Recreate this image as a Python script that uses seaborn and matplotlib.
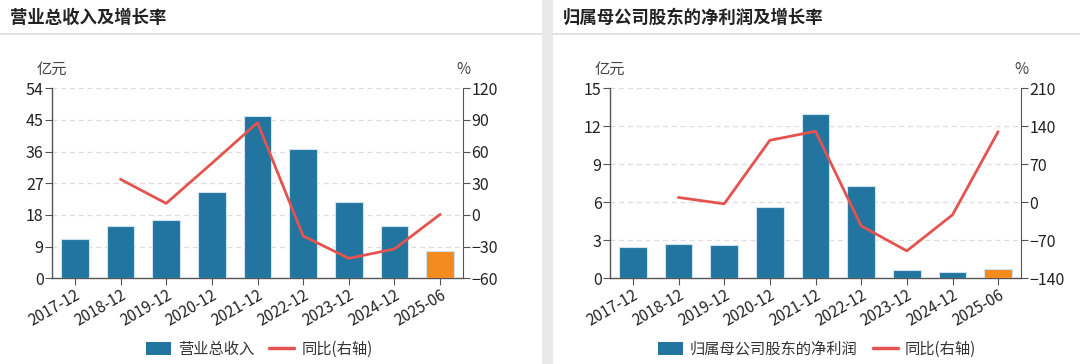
import matplotlib
matplotlib.use("Agg")
from matplotlib import pyplot as plt
from matplotlib.patches import Rectangle, Patch
from matplotlib.lines import Line2D
import seaborn as sns
import numpy as np

# data
periods = ["2017-12", "2018-12", "2019-12", "2020-12", "2021-12",
           "2022-12", "2023-12", "2024-12", "2025-06"]
revenue = [11.1, 14.9, 16.6, 24.5, 46.1, 36.7, 21.7, 14.8, 7.8]
revenue_yoy = [33.8, 11.0, 48.9, 87.5, -19.9, -41.1, -32.2, 0.6]
profit = [2.51, 2.72, 2.64, 5.62, 13.0, 7.28, 0.69, 0.53, 0.74]
profit_yoy = [8.9, -2.8, 114.2, 130.8, -43.4, -89.5, -23.1, 130.2]

BLUE = "#21759f"
ORANGE = "#f58a1f"
RED = "#e4534f"
AXIS = "#555555"

sns.set_style("white")
plt.rcParams["font.family"] = ["Noto Sans CJK SC", "DejaVu Sans"]

W, H = 1080, 364
fig = plt.figure(figsize=(W / 100, H / 100), dpi=100, facecolor="#e8e9eb")


def px(x0, y0, w, h):
    # pixel box (top-left origin) -> figure fraction
    return [x0 / W, 1 - (y0 + h) / H, w / W, h / H]


def card(x0, x1, title):
    fig.patches.append(Rectangle((x0 / W, 0), (x1 - x0) / W, 1, transform=fig.transFigure,
                                 facecolor="white", edgecolor="none", zorder=-10))
    fig.lines.append(Line2D([x0 / W, x1 / W], [1 - 34 / H, 1 - 34 / H], transform=fig.transFigure,
                            color="#dcdcdc", lw=1.2))
    fig.text((x0 + 10) / W, 1 - 18 / H, title, fontsize=12.5, fontweight="bold",
             va="center", ha="left", color="#222222")


def panel(x0, vals, yoy, lticks, rticks, bar_label):
    ax = fig.add_axes(px(x0, 88.3, 411, 190))
    colors = [BLUE] * (len(vals) - 1) + [ORANGE]
    sns.barplot(x=periods, y=vals, hue=periods, palette=colors, legend=False,
                width=0.6, ax=ax, edgecolor="#cfe3ef", linewidth=0.8, saturation=1, zorder=3)
    ax.set_xlim(-0.5, len(periods) - 0.5)
    ax.set_ylim(lticks[0], lticks[-1])
    ax.set_yticks(lticks)
    ax.grid(axis="y", color="#dddddd", linestyle=(0, (4, 3)), lw=0.9, zorder=0)
    ax.set_axisbelow(True)
    for s in ["top", "right"]:
        ax.spines[s].set_visible(False)
    for s in ["left", "bottom"]:
        ax.spines[s].set_color(AXIS)
        ax.spines[s].set_linewidth(1)
    ax.tick_params(axis="y", direction="out", length=5, color=AXIS, labelsize=11.5,
                   labelcolor="#222222", pad=1, left=True)
    ax.tick_params(axis="x", direction="out", length=5, color=AXIS, labelsize=11,
                   labelcolor="#222222", pad=1, bottom=True)
    plt.setp(ax.get_xticklabels(), rotation=30, ha="right", rotation_mode="anchor")
    ax.set_xlabel("")
    ax.set_ylabel("")

    ax2 = ax.twinx()
    sns.lineplot(x=np.arange(1, len(periods)), y=yoy, ax=ax2, color=RED, lw=2, zorder=4)
    ax2.set_ylim(rticks[0], rticks[-1])
    ax2.set_yticks(rticks)
    for s in ["top", "left", "bottom"]:
        ax2.spines[s].set_visible(False)
    ax2.spines["right"].set_color(AXIS)
    ax2.tick_params(axis="y", direction="out", length=5, color=AXIS, labelsize=11.5,
                    labelcolor="#222222", pad=1, right=True)
    ax2.set_ylabel("")

    fig.text(x0 / W, 1 - 69 / H, "亿元", fontsize=11, color="#444444", ha="center", va="center")
    fig.text((x0 + 411) / W, 1 - 69 / H, "%", fontsize=11, color="#444444", ha="center", va="center")

    handles = [Patch(facecolor=BLUE, edgecolor="none"),
               Line2D([0], [0], color=RED, lw=2.5)]
    fig.legend(handles, [bar_label, "同比(右轴)"], loc="center",
               bbox_to_anchor=((x0 + 207) / W, 1 - 349 / H), ncol=2, frameon=False,
               fontsize=11, handlelength=1.65, handleheight=0.9, columnspacing=1.0,
               handletextpad=0.45, labelcolor="#333333")


card(0, 542, "营业总收入及增长率")
card(553, 1080, "归属母公司股东的净利润及增长率")
panel(52, revenue, revenue_yoy, [0, 9, 18, 27, 36, 45, 54], [-60, -30, 0, 30, 60, 90, 120], "营业总收入")
panel(610, profit, profit_yoy, [0, 3, 6, 9, 12, 15], [-140, -70, 0, 70, 140, 210], "归属母公司股东的净利润")

fig.savefig("out.png", dpi=100, facecolor=fig.get_facecolor())
